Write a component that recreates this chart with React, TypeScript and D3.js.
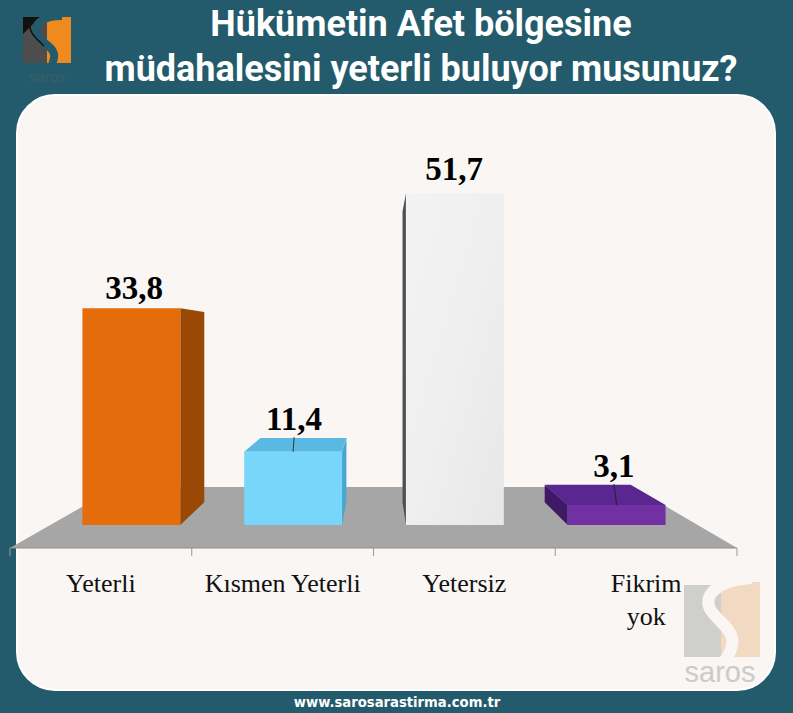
import React from "react";
import * as d3 from "d3";

const categories = ["Yeterli", "Kısmen Yeterli", "Yetersiz", "Fikrim yok"];
const values = [33.8, 11.4, 51.7, 3.1];
const wrappedCategories = ["Fikrim yok"];
const titleLines = ["Hükümetin Afet bölgesine", "müdahalesini yeterli buluyor musunuz?"];
const footerText = "www.sarosarastirma.com.tr";
const brandText = "saros";

const W = 793;
const H = 713;
const TEAL = "#235b6c";
const PANEL = "#f9f6f3";

const palette = [
  { front: "#e46c0a", side: "#9a4806", top: "#c25c08" },
  { front: "#78d6fb", side: "#4aa6d0", top: "#5ab9e2" },
  { front: "url(#whiteGrad)", side: "#4f4f4f", top: "#dcdcdc" },
  { front: "#7131a2", side: "#3f1966", top: "#5a2790" },
];

const V = { x: 378, y: 338 };
const S_FRONT = 0.89;
const S_BACK = 0.782;
const S_FLOOR_BACK = 0.71;

function proj(x: number, y: number, s: number): [number, number] {
  return [V.x + (x - V.x) * s, V.y + (y - V.y) * s];
}
function poly(pts: [number, number][]) {
  return pts.map((p) => p[0].toFixed(2) + "," + p[1].toFixed(2)).join(" ");
}

export default function App() {
  const x = d3.scaleBand<string>().domain(categories).range([10, 737]).paddingInner(0).paddingOuter(0);
  const y = d3.scaleLinear().domain([0, 60]).range([548, 116]);
  const bw = x.bandwidth();
  const barW = bw * 0.605;
  const fmt = (v: number) => d3.format(".1f")(v).replace(".", ",");

  const y0 = y(0);
  const [x0, x1] = x.range();
  const floor = [proj(x0, y0, 1), proj(x1, y0, 1), proj(x1, y0, S_FLOOR_BACK), proj(x0, y0, S_FLOOR_BACK)];
  const ticks = [...categories.map((c) => x(c) as number), x1];

  return (
    <svg width={W} height={H} style={{ position: "absolute", left: 0, top: 0 }} xmlns="http://www.w3.org/2000/svg">
      <defs>
        <linearGradient id="whiteGrad" x1="0" y1="0" x2="1" y2="1">
          <stop offset="0" stopColor="#f3f3f3" />
          <stop offset="0.5" stopColor="#efefef" />
          <stop offset="1" stopColor="#e7e7e7" />
        </linearGradient>
      </defs>
      <rect x={0} y={0} width={W} height={H} fill={TEAL} />
      <rect x={17} y={95} width={758} height={595} rx={38} ry={38} fill={PANEL} stroke="#ffffff" strokeWidth={2} />

      {/* title */}
      <g fontFamily="Roboto, 'Liberation Sans', sans-serif" fontWeight={700} fontSize={36} fill="#ffffff" textAnchor="middle">
        {titleLines.map((t, i) => (
          <text key={i} x={421} y={36 + i * 45}>{t}</text>
        ))}
      </g>

      {/* top-left logo */}
      <g>
        <rect x={23} y={17} width={24} height={46} fill="#4d4d4d" />
        <path d="M23,17 L40,17 L23,34 Z" fill="#111111" />
        <rect x={47} y={17} width={24} height={46} fill="#ef8a1f" />
        <path d="M62,16 C40,16 32,26 38,36 C44,46 60,48 52,64" fill="none" stroke={TEAL} strokeWidth={8} />
        <path d="M30,22 C28,32 36,38 44,46" fill="none" stroke="#111" strokeWidth={1.5} />
        <text x={47} y={82} textAnchor="middle" fontFamily="'Liberation Sans', Arial, sans-serif" fontSize={15} fill="#3b5d6a">{brandText}</text>
      </g>

      {/* floor */}
      <polygon points={poly(floor)} fill="#a6a6a6" />
      <line x1={x0} x2={x1} y1={y0} y2={y0} stroke="#8f8f8f" strokeWidth={1} />
      {ticks.map((t, i) => (
        <line key={i} x1={t} x2={t} y1={y0} y2={y0 + 8} stroke="#9a9a9a" strokeWidth={1} />
      ))}

      {/* bars */}
      {categories.map((c, i) => {
        const v = values[i];
        const cx = (x(c) as number) + bw / 2;
        const bx0 = cx - barW / 2;
        const bx1 = cx + barW / 2;
        const yt = y(v);
        const col = palette[i];
        const front = [proj(bx0, yt, S_FRONT), proj(bx1, yt, S_FRONT), proj(bx1, y0, S_FRONT), proj(bx0, y0, S_FRONT)];
        const sideX = bx1 < V.x ? bx1 : bx0;
        const side = [proj(sideX, yt, S_FRONT), proj(sideX, yt, S_BACK), proj(sideX, y0, S_BACK), proj(sideX, y0, S_FRONT)];
        const topVisible = yt > V.y;
        const top = [proj(bx0, yt, S_FRONT), proj(bx1, yt, S_FRONT), proj(bx1, yt, S_BACK), proj(bx0, yt, S_BACK)];
        const frontTopY = front[0][1];
        const backTopY = proj(cx, yt, S_BACK)[1];
        const lp = proj(cx, yt, 0.88);
        const ly = Math.min(frontTopY, backTopY) - 8 - 0.04 * Math.max(0, V.y - frontTopY);
        const ft = proj(cx, yt, S_FRONT);
        return (
          <g key={c}>
            <polygon points={poly(side)} fill={col.side} />
            {topVisible && <polygon points={poly(top)} fill={col.top} />}
            <polygon points={poly(front)} fill={col.front} />
            {topVisible && <line x1={lp[0]} y1={ly + 7} x2={ft[0]} y2={ft[1]} stroke="#1a1a1a" strokeWidth={0.8} />}
            <text x={lp[0]} y={ly} textAnchor="middle" fontFamily="'Liberation Serif', 'Times New Roman', serif" fontWeight={700} fontSize={33} fill="#000">
              {fmt(v)}
            </text>
          </g>
        );
      })}

      {/* category labels */}
      {categories.map((c) => {
        const cx = (x(c) as number) + bw / 2;
        const lines = wrappedCategories.includes(c) ? c.split(" ") : [c];
        return (
          <text key={c} x={cx} y={592} textAnchor="middle" fontFamily="'Liberation Serif', 'Times New Roman', serif" fontSize={26} fill="#111">
            {lines.map((l, j) => (
              <tspan key={j} x={cx} dy={j === 0 ? 0 : 33}>{l}</tspan>
            ))}
          </text>
        );
      })}

      {/* bottom-right watermark */}
      <g opacity={0.95}>
        <rect x={684} y={585} width={37} height={72} fill="#cdcdcd" />
        <rect x={721} y={582} width={39} height={75} fill="#f2d8bf" />
        <path d="M752,578 C718,580 700,596 712,612 C724,628 744,634 724,662" fill="none" stroke={PANEL} strokeWidth={12} />
        <text x={720} y={682} textAnchor="middle" fontFamily="'Liberation Sans', Arial, sans-serif" fontSize={29} fill="#c9c9c9">{brandText}</text>
      </g>

      {/* footer */}
      <text x={397} y={707} textAnchor="middle" fontFamily="'DejaVu Sans', Verdana, sans-serif" fontWeight={700} fontSize={13.2} fill="#ffffff">
        {footerText}
      </text>
    </svg>
  );
}
